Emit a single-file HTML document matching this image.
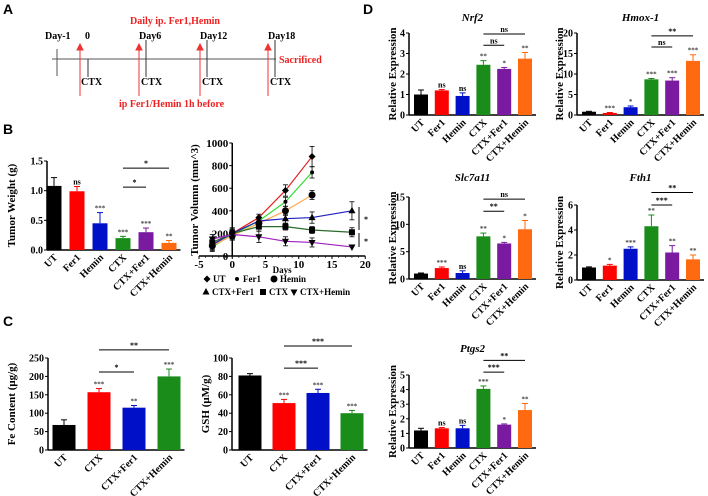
<!DOCTYPE html>
<html><head><meta charset="utf-8"><style>
body{margin:0;background:#fff}
svg{display:block}
text{font-family:"Liberation Serif",serif;font-weight:bold}
.L{font-family:"Liberation Sans",sans-serif;font-size:14px;font-weight:bold}
</style></head><body>
<svg id="fig" width="708" height="496" viewBox="0 0 708 496">
<text class="L" x="3" y="14">A</text>
<text class="L" x="3" y="134">B</text>
<text class="L" x="3" y="326">C</text>
<text class="L" x="363" y="14">D</text>
<g id="timeline" font-size="10">
<line x1="52" y1="59" x2="276" y2="59" stroke="#555" stroke-width="1"/>
<line x1="57" y1="49" x2="57" y2="76" stroke="#555"/>
<line x1="88" y1="59" x2="88" y2="77" stroke="#333"/>
<line x1="146" y1="40" x2="146" y2="77" stroke="#333"/>
<line x1="207" y1="40" x2="207" y2="77" stroke="#333"/>
<line x1="275" y1="40" x2="275" y2="77" stroke="#333"/>
<text x="45" y="39">Day-1</text><text x="85" y="39">0</text><text x="139" y="39">Day6</text><text x="200" y="39">Day12</text><text x="268" y="39">Day18</text>
<text x="81" y="85">CTX</text><text x="141" y="85">CTX</text><text x="202" y="85">CTX</text><text x="270" y="85">CTX</text>
<g stroke="#e33" fill="#e33">
<line x1="80" y1="96" x2="80" y2="48"/><path d="M77,50 L80,44 L83,50Z"/>
<line x1="139" y1="96" x2="139" y2="48"/><path d="M136,50 L139,44 L142,50Z"/>
<line x1="200" y1="96" x2="200" y2="48"/><path d="M197,50 L200,44 L203,50Z"/>
<line x1="268" y1="96" x2="268" y2="48"/><path d="M265,50 L268,44 L271,50Z"/>
</g>
<text x="130" y="24" fill="#e22">Daily ip. Fer1,Hemin</text>
<text x="279" y="63" fill="#e22">Sacrificed</text>
<text x="119" y="107" fill="#e22">ip Fer1/Hemin 1h before</text>
</g>
</svg>
<script>
const NS="http://www.w3.org/2000/svg";
const svg=document.getElementById('fig');
function el(tag,attrs,parent,txt){const e=document.createElementNS(NS,tag);for(const k in attrs)e.setAttribute(k,attrs[k]);if(txt!==undefined)e.textContent=txt;(parent||svg).appendChild(e);return e;}

// ---- data ----
const cats6=["UT","Fer1","Hemin","CTX","CTX+Fer1","CTX+Hemin"];
const cats4=["UT","CTX","CTX+Fer1","CTX+Hemin"];
const colors6=["#000","#f00","#0010c8","#1a8c1a","#7a1aa0","#ff6a10"];
const colors4=["#000","#f00","#0010c8","#1a8c1a"];
const weightVals=[1.08,0.99,0.45,0.2,0.3,0.12];
const weightErr=[0.14,0.08,0.18,0.03,0.07,0.04];
const weightStars=["","ns","***","***","***","**"];
const weightTicks=[0,0.5,1,1.5];
const weightTickLabels=["0.0","0.5","1.0","1.5"];
const feVals=[68,157,115,200];
const feErr=[14,10,6,20];
const feStars=["","***","**","***"];
const feTicks=[0,50,100,150,200,250];
const gshVals=[81,51,62,40];
const gshErr=[2,4,4,3];
const gshStars=["","***","***","***"];
const gshTicks=[0,20,40,60,80,100];
const nrf2Vals=[1.0,1.2,0.93,2.45,2.25,2.75];
const nrf2Err=[0.22,0.04,0.15,0.2,0.07,0.3];
const nrf2Stars=["","ns","ns","**","*","**"];
const nrf2Ticks=[0,1,2,3,4];
const hmoxVals=[0.8,0.5,1.9,8.7,8.4,13.2];
const hmoxErr=[0.1,0.1,0.3,0.2,0.7,1.5];
const hmoxStars=["","***","*","***","***","***"];
const hmoxTicks=[0,5,10,15,20];
const slcVals=[1.0,2.0,1.1,7.8,6.5,9.1];
const slcErr=[0.1,0.2,0.4,0.6,0.2,1.6];
const slcStars=["","***","ns","**","*","*"];
const slcTicks=[0,5,10,15];
const fthVals=[1.0,1.15,2.5,4.3,2.2,1.65];
const fthErr=[0.05,0.1,0.15,0.9,0.55,0.35];
const fthStars=["","*","***","**","**","**"];
const fthTicks=[0,2,4,6];
const ptgsVals=[1.2,1.35,1.35,4.05,1.6,2.6];
const ptgsErr=[0.15,0.05,0.2,0.2,0.05,0.45];
const ptgsStars=["","ns","ns","***","*","**"];
const ptgsTicks=[0,1,2,3,4,5];
const weightBr=[[3,4,1.06,"*"],[3,5,1.38,"*"]];
const feBr=[[1,2,212,"*"],[1,3,272,"**"]];
const gshBr=[[1,2,89,"***"],[1,3,113,"***"]];
const nrf2Br=[[3,4,3.4,"ns"],[3,5,3.95,"ns"]];
const hmoxBr=[[3,4,16.6,"ns"],[3,5,19.3,"**"]];
const slcBr=[[3,4,12.4,"**"],[3,5,14.6,"ns"]];
const fthBr=[[3,4,6.0,"***"],[3,5,7.0,"**"]];
const ptgsBr=[[3,4,5.2,"***"],[3,5,6.0,"**"]];
// tumor volume
const days=[-3,0,4,8,12,18];
const volUT=[100,200,340,580,880];
const volFer1=[80,190,310,480,740];
const volHemin=[90,180,290,400,540];
const volCtxFer1=[100,200,310,330,340,400];
const volCTX=[120,200,260,260,230,210];
const volCtxHemin=[150,190,170,130,120,80];
const volErrs=[[40,50,30,50,90],[40,40,30,40,50],[40,40,30,40,40],[40,40,30,40,50,80],[40,40,40,30,30,40],[40,40,50,40,40,0]];
const xTicks=[-5,0,5,10,15,20];
const yTicks=[0,200,400,600,800,1000];

function barChart(o){
  const g=el('g',{},svg);
  
  
  const top=o.ticks[o.ticks.length-1];
  const Y=v=>o.y0-v/top*(o.y0-o.yTop);
  const X=i=>o.c0+i*o.step;
  const n=o.vals.length;
  const xEnd=X(n-1)+o.w/2+4;
  el('line',{x1:o.x0,y1:o.y0,x2:xEnd,y2:o.y0,stroke:'#000','stroke-width':1.5},g);
  el('line',{x1:o.x0,y1:o.y0,x2:o.x0,y2:o.yTop,stroke:'#000','stroke-width':1.5},g);
  o.ticks.forEach((t,k)=>{
    el('line',{x1:o.x0-3,y1:Y(t),x2:o.x0,y2:Y(t),stroke:'#000'},g);
    const tl=el('text',{x:o.x0-4,y:Y(t)+3.5,'text-anchor':'end','font-size':o.fs||10},g,o.tickLabels?o.tickLabels[k]:t);
    
    
  });
  o.vals.forEach((v,i)=>{
    const c=o.colors[i];
    const b=el('rect',{x:X(i)-o.w/2,y:Y(v),width:o.w,height:o.y0-Y(v),fill:c},g);
    
    
    const ey=Y(v+o.err[i]);
    el('line',{x1:X(i),y1:Y(v),x2:X(i),y2:ey,stroke:c,'stroke-width':1},g);
    el('line',{x1:X(i)-3,y1:ey,x2:X(i)+3,y2:ey,stroke:c,'stroke-width':1},g);
    if(o.stars[i]){const s=el('text',{x:X(i),y:ey-2,'text-anchor':'middle','font-size':o.stars[i]=='ns'?8:7,fill:o.stars[i]=='ns'?'#000':'#444'},g,o.stars[i]);
      }
    const lx=X(i)+4, ly=o.y0+8;
    const t=el('text',{x:lx,y:ly,'text-anchor':'end','font-size':10,transform:`rotate(-45 ${lx} ${ly})`},g,o.cats[i]);
    
    
  });
  o.br.forEach(b=>{
    const y=Y(b[2]);
    el('line',{x1:X(b[0]),y1:y,x2:X(b[1]),y2:y,stroke:'#000','stroke-width':1},g);
    const s=el('text',{x:(X(b[0])+X(b[1]))/2,y:y-2,'text-anchor':'middle','font-size':8},g,b[3]);
    
  });
  const mid=(o.y0+o.yTop)/2;
  const yt=el('text',{x:o.ytx,y:mid,'text-anchor':'middle','font-size':o.ytfs||11,transform:`rotate(-90 ${o.ytx} ${mid})`},g,o.ytitle);
  
  
  if(o.title){const tt=el('text',{x:(o.x0+xEnd)/2,y:o.titleY,'text-anchor':'middle','font-size':11,'font-style':'italic'},g,o.title);
    }
}

barChart({name:'tumor-weight-chart',x0:47,y0:250,yTop:161,c0:54,step:23,w:15,vals:weightVals,err:weightErr,stars:weightStars,ticks:weightTicks,tickLabels:weightTickLabels,colors:colors6,cats:cats6,br:weightBr,ytitle:'Tumor Weight (g)',ytx:15});
barChart({name:'fe-content-chart',x0:48,y0:450,yTop:358,c0:64,step:35,w:23,vals:feVals,err:feErr,stars:feStars,ticks:feTicks,colors:colors4,cats:cats4,br:feBr,ytitle:'Fe Content (μg/g)',ytx:15});
barChart({name:'gsh-chart',x0:232,y0:450,yTop:358,c0:250,step:34,w:23,vals:gshVals,err:gshErr,stars:gshStars,ticks:gshTicks,colors:colors4,cats:cats4,br:gshBr,ytitle:'GSH (μM/g)',ytx:209});
barChart({name:'nrf2-chart',title:'Nrf2',titleY:21,x0:409,y0:115,yTop:33,c0:421,step:20.8,w:14,vals:nrf2Vals,err:nrf2Err,stars:nrf2Stars,ticks:nrf2Ticks,colors:colors6,cats:cats6,br:nrf2Br,ytitle:'Relative Expression',ytx:396});
barChart({name:'hmox1-chart',title:'Hmox-1',titleY:21,x0:577,y0:115,yTop:33,c0:589,step:20.8,w:14,vals:hmoxVals,err:hmoxErr,stars:hmoxStars,ticks:hmoxTicks,colors:colors6,cats:cats6,br:hmoxBr,ytitle:'Relative Expression',ytx:563});
barChart({name:'slc7a11-chart',title:'Slc7a11',titleY:181,x0:409,y0:279,yTop:197,c0:421,step:20.8,w:14,vals:slcVals,err:slcErr,stars:slcStars,ticks:slcTicks,colors:colors6,cats:cats6,br:slcBr,ytitle:'Relative Expression',ytx:396});
barChart({name:'fth1-chart',title:'Fth1',titleY:181,x0:577,y0:280,yTop:205,c0:589,step:20.8,w:14,vals:fthVals,err:fthErr,stars:fthStars,ticks:fthTicks,colors:colors6,cats:cats6,br:fthBr,ytitle:'Relative Expression',ytx:563});
barChart({name:'ptgs2-chart',title:'Ptgs2',titleY:352,x0:409,y0:448,yTop:375,c0:421,step:20.8,w:14,vals:ptgsVals,err:ptgsErr,stars:ptgsStars,ticks:ptgsTicks,colors:colors6,cats:cats6,br:ptgsBr,ytitle:'Relative Expression',ytx:396});

// ---- tumor volume line chart ----
(function(){
  const g=el('g',{},svg);
  
  
  const X=d=>199+(d+5)*6.65, Y=v=>256-v*0.113;
  const ax=X(0);
  el('line',{x1:199,y1:256,x2:X(20),y2:256,stroke:'#000','stroke-width':1.5},g);
  el('line',{x1:ax,y1:256,x2:ax,y2:Y(1000),stroke:'#000','stroke-width':1.5},g);
  xTicks.forEach(t=>{el('line',{x1:X(t),y1:256,x2:X(t),y2:259,stroke:'#000'},g);
    const l=el('text',{x:X(t),y:268,'text-anchor':'middle','font-size':11},g,t);
    });
  for(let d=-4;d<20;d++){el('line',{x1:X(d),y1:256,x2:X(d),y2:258,stroke:'#000','stroke-width':0.6},g);}
  yTicks.forEach(t=>{el('line',{x1:ax-3,y1:Y(t),x2:ax,y2:Y(t),stroke:'#000'},g);
    const l=el('text',{x:ax-4,y:Y(t)+4,'text-anchor':'end','font-size':11},g,t);
    });
  const xt=el('text',{x:X(7.5),y:273,'text-anchor':'middle','font-size':9},g,'Days');
  
  const yt=el('text',{x:198,y:200,'text-anchor':'middle','font-size':11,transform:'rotate(-90 198 200)'},g,'Tumor Volumn (mm^3)');
  
  const series=[[volUT,'#e02020','UT','d'],[volFer1,'#33dd33','Fer1','s'],[volHemin,'#ffaa55','Hemin','c'],[volCtxFer1,'#2020c0','CTX+Fer1','t'],[volCTX,'#2a6a2a','CTX','q'],[volCtxHemin,'#a020c0','CTX+Hemin','v']];
  function marker(p,x,y,t){
    if(t=='d')el('path',{d:`M${x},${y-3.5}L${x+3.5},${y}L${x},${y+3.5}L${x-3.5},${y}Z`,fill:'#000'},p);
    else if(t=='s')el('circle',{cx:x,cy:y,r:2,fill:'#000'},p);
    else if(t=='c')el('circle',{cx:x,cy:y,r:3.5,fill:'#000'},p);
    else if(t=='t')el('path',{d:`M${x},${y-4}L${x+3.5},${y+2.5}L${x-3.5},${y+2.5}Z`,fill:'#000'},p);
    else if(t=='q')el('rect',{x:x-3,y:y-3,width:6,height:6,fill:'#000'},p);
    else el('path',{d:`M${x},${y+4}L${x+3.5},${y-2.5}L${x-3.5},${y-2.5}Z`,fill:'#000'},p);
  }
  series.forEach((s,si)=>{
    const sg=el('g',{},g);
    
    
    const pts=s[0].map((v,i)=>X(days[i])+','+Y(v)).join(' ');
    el('polyline',{points:pts,fill:'none',stroke:s[1],'stroke-width':1.2},sg);
    s[0].forEach((v,i)=>{const e=volErrs[si][i]||0;const x=X(days[i]);
      if(e){el('line',{x1:x,y1:Y(v-e),x2:x,y2:Y(v+e),stroke:'#000','stroke-width':0.8},sg);
        el('line',{x1:x-2.5,y1:Y(v+e),x2:x+2.5,y2:Y(v+e),stroke:'#000','stroke-width':0.8},sg);
        el('line',{x1:x-2.5,y1:Y(v-e),x2:x+2.5,y2:Y(v-e),stroke:'#000','stroke-width':0.8},sg);}
      marker(sg,x,Y(v),s[3]);});
  });
  el('line',{x1:359,y1:207,x2:359,y2:230,stroke:'#000'},g);
  el('text',{x:364,y:222,'font-size':8},g,'*');
  el('line',{x1:359,y1:233,x2:359,y2:247,stroke:'#000'},g);
  el('text',{x:364,y:244,'font-size':8},g,'*');
  const lg=el('g',{'font-size':9},g);
  
  const lpos=[[207,282],[237,282],[274,282],[206,295],[263,295],[294,295]];
  series.forEach((s,i)=>{marker(lg,lpos[i][0],lpos[i][1]-3,s[3]);
    const t=el('text',{x:lpos[i][0]+6,y:lpos[i][1]},lg,s[2]);
    });
})();
</script>
</body></html>
